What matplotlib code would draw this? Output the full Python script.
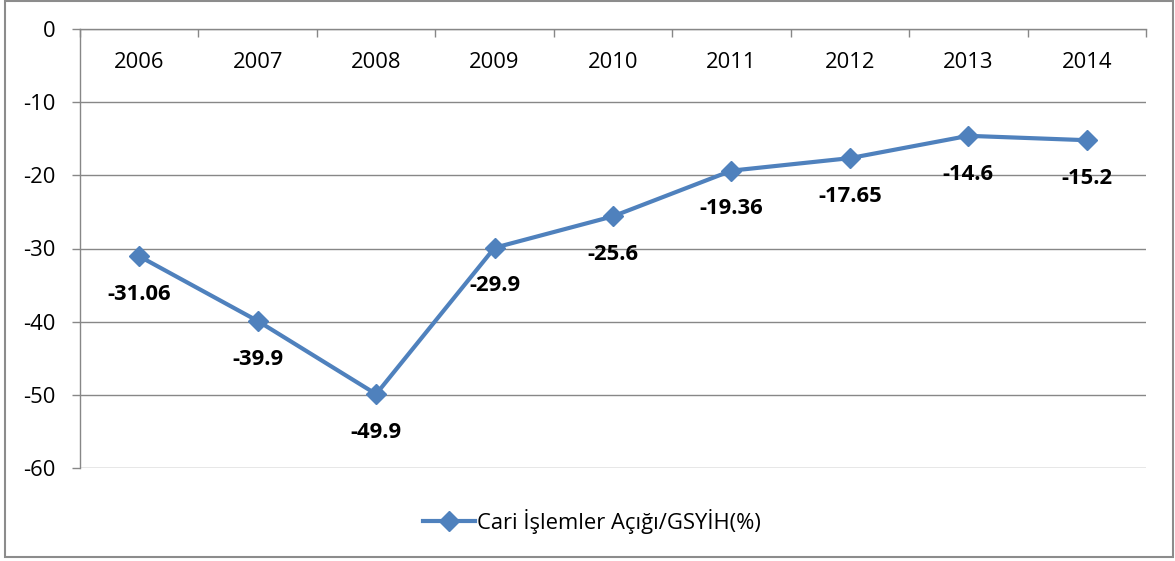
import matplotlib
matplotlib.use("Agg")
import matplotlib.pyplot as plt
from matplotlib.patches import Rectangle
from matplotlib.ticker import FixedLocator

years = ["2006", "2007", "2008", "2009", "2010", "2011", "2012", "2013", "2014"]
values = [-31.06, -39.9, -49.9, -29.9, -25.6, -19.36, -17.65, -14.6, -15.2]
labels = ["-31.06", "-39.9", "-49.9", "-29.9", "-25.6", "-19.36", "-17.65", "-14.6", "-15.2"]
yticks = [0, -10, -20, -30, -40, -50, -60]
series_name = "Cari İşlemler Açığı/GSYİH(%)"

plt.rcParams['font.family'] = ['Open Sans', 'DejaVu Sans']

W, H = 1175, 561
fig = plt.figure(figsize=(W / 100, H / 100), dpi=100)
L, R, T, B = 80, 1146, 29, 468
ax = fig.add_axes([L / W, 1 - B / H, (R - L) / W, (B - T) / H])

grid_c = '#878787'
line_c = '#4F81BD'
fs = 15.8

x = list(range(len(years)))
ax.plot(x, values, color=line_c, lw=3, marker='D', markersize=10,
        markeredgecolor=line_c, markerfacecolor=line_c, label=series_name,
        zorder=3, clip_on=False)

for xi, v, lab in zip(x, values, labels):
    ax.annotate(lab, (xi, v), xytext=(0, -27.5), textcoords='offset points',
                ha='center', va='center', fontsize=15.8, fontweight='bold',
                color='black', zorder=4)

ax.set_xlim(-0.5, len(years) - 0.5)
ax.set_ylim(-60, 0)
ax.set_yticks(yticks)
ax.set_yticklabels([str(t) for t in yticks])
ax.yaxis.grid(True, color=grid_c, lw=1)
ax.set_axisbelow(True)

ax.set_xticks(x)
ax.set_xticklabels(years)
ax.xaxis.set_minor_locator(FixedLocator([i + 0.5 for i in range(-1, len(years))]))
ax.tick_params(axis='x', which='major', top=True, bottom=False, labeltop=True,
               labelbottom=False, length=0, pad=-31.5, labelsize=fs)
ax.tick_params(axis='x', which='minor', top=True, bottom=False, direction='in',
               length=6, color=grid_c, width=1)
ax.tick_params(axis='y', which='major', left=True, direction='out', length=6,
               color=grid_c, width=1, labelsize=fs, pad=12)

for s in ['bottom', 'right']:
    ax.spines[s].set_visible(False)
for s in ['left', 'top']:
    ax.spines[s].set_color(grid_c)
    ax.spines[s].set_linewidth(1)

leg = fig.legend(loc='center', bbox_to_anchor=(592 / W, 1 - 521 / H), frameon=False,
                 fontsize=fs, handlelength=2.4, handletextpad=0.1)

fig.patches.append(Rectangle((5 / W, 1 - 557 / H), (1173 - 5) / W, (557 - 1) / H,
                             transform=fig.transFigure, fill=False,
                             edgecolor='#8c8c8c', lw=1.5))

fig.savefig("out.png", dpi=100, facecolor='white')
